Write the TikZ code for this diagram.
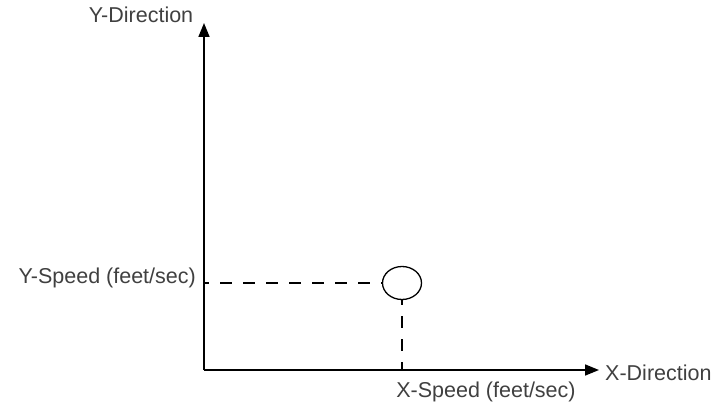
\documentclass[tikz,border=0pt]{standalone}
\usepackage{fontspec}
\setmainfont{Liberation Sans}
\usetikzlibrary{arrows.meta,shapes.geometric}
\begin{document}
\begin{tikzpicture}[x=1pt,y=-1pt,
    lbl/.style={text=black!75,font=\fontsize{21.5}{26}\selectfont,inner sep=0pt},
    axis/.style={black,line width=1.6pt,-{Triangle[length=14pt,width=11pt]}},
    guide/.style={black,line width=1.3pt,dash pattern=on 12pt off 11pt,dash phase=7pt}]
  \useasboundingbox (0,0) rectangle (714,404);
  % axes
  \coordinate (O) at (204,370);
  \coordinate (ytip) at (204,23);
  \coordinate (xtip) at (599,370);
  \draw[axis] (O) -- (ytip);
  \draw[axis] (O) -- (xtip);
  \node[lbl] (ydir) at (141,15) {Y-Direction};
  \node[lbl,anchor=west] (xdir) at (605,373) {X-Direction};

  % the point and its speeds
  \node[draw,ellipse,line width=1.3pt,minimum width=39pt,minimum height=33pt,inner sep=0pt] (pt) at (402,283) {};
  \coordinate (ys) at (204,283);
  \coordinate (xs) at (402,370);
  \draw[guide] (ys) -- (pt.west);
  \draw[guide] (pt.south) -- (xs);
  \node[lbl,anchor=east] (yspd) at (196,278) {Y-Speed (feet/sec)};
  \node[lbl] (xspd) at (486,392) {X-Speed (feet/sec)};
\end{tikzpicture}
\end{document}
